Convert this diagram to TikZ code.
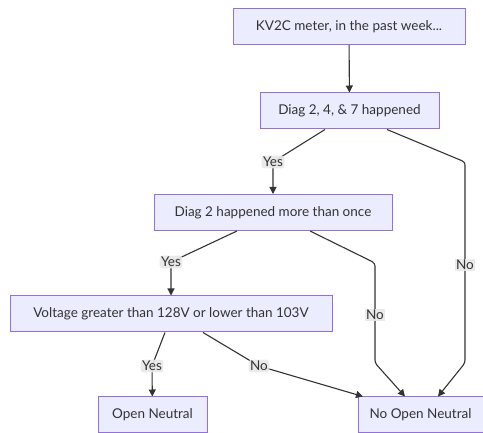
\documentclass[tikz,border=0pt]{standalone}
\usepackage{fontspec}
\setmainfont{Lato}
\usetikzlibrary{arrows.meta, positioning}
\definecolor{boxfill}{HTML}{ECECFF}
\definecolor{boxline}{HTML}{9370DB}
\definecolor{ink}{HTML}{333333}
\definecolor{lblfill}{HTML}{E8E8E8}
\tikzset{
  box/.style={draw=boxline, fill=boxfill, text=ink, line width=1pt, minimum height=36pt, inner sep=0pt, font=\fontsize{13.5}{16}\selectfont},
  lbl/.style={fill=lblfill, fill opacity=.9, text opacity=1, text=ink, inner sep=1.5pt, font=\fontsize{13.5}{16}\selectfont},
  flow/.style={draw=ink, line width=1.1pt, rounded corners=3pt, -{Triangle[length=7pt,width=7pt]}}
}

\begin{document}
\begin{tikzpicture}[x=1pt,y=-1pt]
\useasboundingbox (0,0) rectangle (483,433);
\node[box, minimum width=232pt] (meter) at (349,26.5) {KV2C meter, in the past week...};
\node[box, minimum width=179pt] (diag) at (349.5,111) {Diag 2, 4, \& 7 happened};
\node[box, minimum width=238pt] (once) at (273,212.5) {Diag 2 happened more than once};
\node[box, minimum width=322pt] (volt) at (171,314) {Voltage greater than 128V or lower than 103V};
\node[box, minimum width=109pt] (open) at (152.5,415) {Open Neutral};
\node[box, minimum width=125pt] (noopen) at (420.5,415) {No Open Neutral};
% bends
\coordinate (d1) at (273,162);
\coordinate (d2) at (465,162);
\coordinate (d3) at (465,363);
\coordinate (o1) at (171,262);
\coordinate (o2) at (375,263);
\coordinate (o3) at (375,363);
\coordinate (v1) at (152,366);
\coordinate (v2) at (259,366);
\draw[flow] (meter) -- (diag);
\draw[flow] ([xshift=-24.5pt]diag.south) -- (d1) node[lbl] (yes1) {Yes} -- (once);
\draw[flow] ([xshift=37.5pt]diag.south) -- (d2) -- (d3) -- ([xshift=17.5pt]noopen.north);
\node[lbl] (no1) at (465,265) {No};
\draw[flow] ([xshift=-36pt]once.south) -- (o1) node[lbl] (yes2) {Yes} -- (volt);
\draw[flow] ([xshift=37pt]once.south) -- (o2) -- (o3) -- ([xshift=-15.5pt]noopen.north);
\node[lbl] (no2) at (375,315) {No};
\draw[flow] ([xshift=-6pt]volt.south) -- (v1) node[lbl] (yes3) {Yes} -- (open);
\draw[flow] ([xshift=32pt]volt.south) -- (v2) node[lbl] (no3) {No} -- ([xshift=-57.5pt]noopen.north);
\end{tikzpicture}
\end{document}
